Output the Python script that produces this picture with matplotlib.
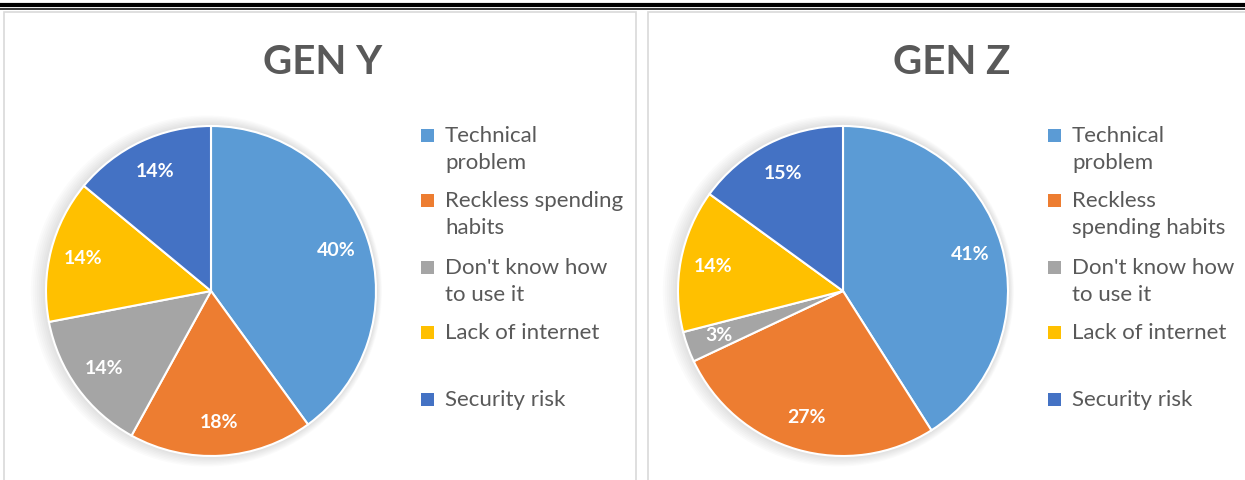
import matplotlib.pyplot as plt
import numpy as np
from matplotlib.patches import Rectangle, Circle
from matplotlib.lines import Line2D

# survey answers per generation
gen_y_values = [40, 18, 14, 14, 14]
gen_z_values = [41, 27, 3, 14, 15]
gen_y_labels = ["Technical\nproblem", "Reckless spending\nhabits", "Don't know how\nto use it",
                "Lack of internet", "Security risk"]
gen_z_labels = ["Technical\nproblem", "Reckless\nspending habits", "Don't know how\nto use it",
                "Lack of internet", "Security risk"]
titles = ["GEN Y", "GEN Z"]
colors = ["#5B9BD5", "#ED7D31", "#A5A5A5", "#FFC000", "#4472C4"]

W, H = 1245, 480
plt.rcParams['font.family'] = ['Lato', 'DejaVu Sans']
fig = plt.figure(figsize=(W / 100, H / 100), dpi=100)


def fx(px):
    return px / W


def fy(py):
    return 1 - py / H


# double rule at the top of the page
fig.add_artist(Line2D([0, 1], [fy(4.5), fy(4.5)], color='black', lw=3.0))
fig.add_artist(Line2D([0, 1], [fy(8.8), fy(8.8)], color='black', lw=1.1))

# chart frames
fig.add_artist(Rectangle((fx(4), fy(490)), fx(632), 478 / H, fill=False,
                         edgecolor='#D9D9D9', lw=1.2))
fig.add_artist(Rectangle((fx(648), fy(490)), fx(620), 478 / H, fill=False,
                         edgecolor='#D9D9D9', lw=1.2))


def draw_chart(cx, title_x, legend_x, values, labels, title):
    r = 165
    lim = 1.12
    half = r * lim
    cy = 291
    ax = fig.add_axes([fx(cx - half), (H - cy - half) / H, 2 * half / W, 2 * half / H])
    # soft shadow around the pie
    for i in range(8):
        ax.add_patch(Circle((-0.004 * i, 0), 1.0 + 0.008 * (i + 1), color='black',
                            alpha=0.014, lw=0, zorder=0))
    wedges, _ = ax.pie(values, colors=colors, startangle=90, counterclock=False,
                       wedgeprops=dict(edgecolor='white', linewidth=1.5))
    for w in wedges:
        w.set_zorder(2)
    ang = 90.0
    for v in values:
        mid = np.deg2rad(ang - v * 3.6 / 2)
        ang -= v * 3.6
        d = 0.8
        ax.text(d * np.cos(mid), d * np.sin(mid), f"{v}%", ha='center', va='center',
                color='white', fontsize=14, fontweight='bold', zorder=3)
    ax.set_xlim(-lim, lim)
    ax.set_ylim(-lim, lim)
    ax.set_aspect('equal')
    ax.axis('off')

    fig.text(fx(title_x), fy(62), title, ha='center', va='center', fontsize=29,
             fontweight='bold', color='#595959')

    rows = [135, 200, 267, 332, 399]
    for lab, col, y in zip(labels, colors, rows):
        fig.add_artist(Rectangle((fx(legend_x - 6.5), fy(y + 6.5)), fx(13), 13 / H,
                                 facecolor=col, edgecolor='none'))
        fig.text(fx(legend_x + 18), fy(y - 9), lab, ha='left', va='top', fontsize=16,
                 color='#595959', linespacing=1.42)


draw_chart(211, 323, 427, gen_y_values, gen_y_labels, titles[0])
draw_chart(843, 952, 1054, gen_z_values, gen_z_labels, titles[1])

fig.savefig('out.png', dpi=100)
